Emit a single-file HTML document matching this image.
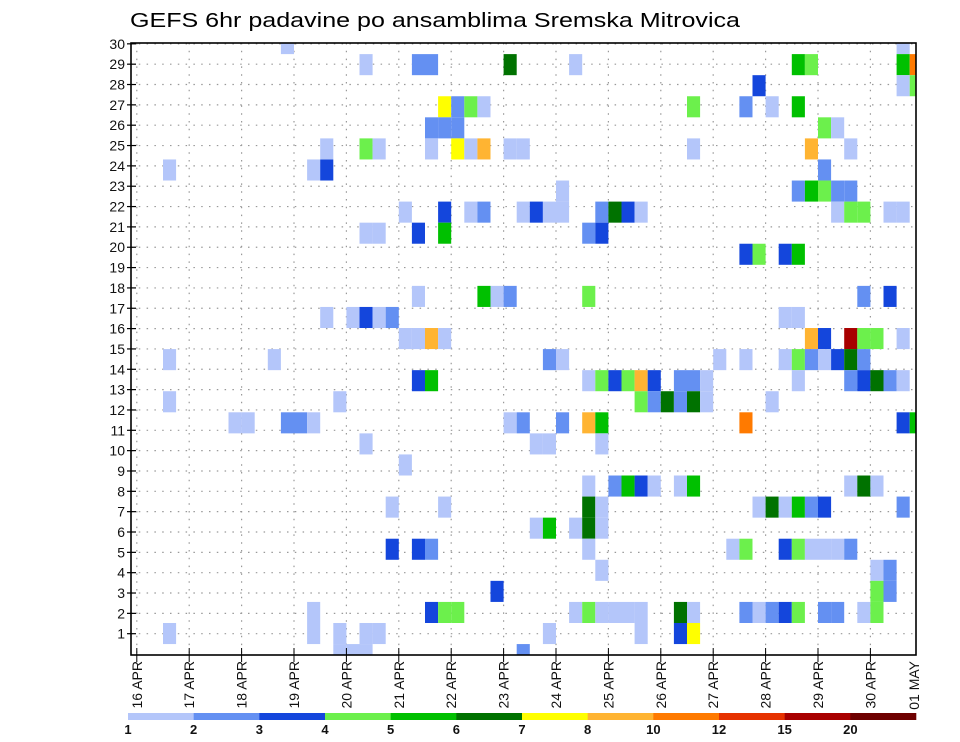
<!DOCTYPE html>
<html><head><meta charset="utf-8"><style>
html,body{margin:0;padding:0;background:#fff;width:960px;height:742px;overflow:hidden}
svg{display:block;font-family:"Liberation Sans",sans-serif}
</style></head><body>
<svg id="chart" width="960" height="742" viewBox="0 0 960 742" xmlns="http://www.w3.org/2000/svg">
<text x="130" y="27" font-size="20" textLength="610" lengthAdjust="spacingAndGlyphs">GEFS 6hr padavine po ansamblima Sremska Mitrovica</text>
<defs><clipPath id="plotclip"><rect x="131" y="43" width="785" height="612"/></clipPath></defs>
<g id="grid"></g>
<g id="cells" clip-path="url(#plotclip)"></g>
<rect x="131" y="43" width="785" height="612" fill="none" stroke="#000" stroke-width="1.6"/>
<g id="yaxis"></g>
<g id="xaxis"></g>
<g id="legend"></g>
</svg>
<script>
// time index (6h steps from 16 APR 00Z), ensemble member row, 6h precip (mm)
const cellTime = [11,2,13,14,14,14,2,10,2,7,8,11,12,13,15,13,13,2,15,
17,21,22,28,23,24,25,26,22,23,24,17,18,22,24,25,26,28,29,20,23,25,26,29,17,18,21,23,21,26,27,28,16,17,18,19,20,21,22,23,
21,22,28,29,17,20,19,23,19,21,22,27,22,23,24,17,18,15,16,17,29,
33,42,42,32,30,31,32,35,36,37,38,34,35,34,
31,32,44,34,35,36,37,38,39,41,42,43,38,39,40,41,42,43,32,34,35,30,31,35,34,36,37,38,39,41,42,34,35,30,31,33,34,35,34,35,33,34,35,36,37,38,41,42,31,38,41,42,
58,50,51,58,59,47,58,59,46,48,50,52,53,51,54,52,50,51,52,53,54,53,54,55,57,58,46,47,49,50,55,57,49,50,51,52,54,55,56,58,
46,49,50,51,52,53,54,55,50,54,55,56,57,58,48,46,58,59,54,55,56,47,48,49,50,51,52,58,45,46,49,50,51,52,53,54,56,57,56,57,46,47,48,49,50,52,53,55,56];
const cellMember = [29,23,23,23,24,16,14,14,12,11,11,11,11,11,12,1,2,1,1,
28,28,28,28,26,26,26,26,25,25,25,24,24,24,24,24,24,24,24,21,21,21,21,21,20,20,20,20,17,17,17,17,16,16,16,16,15,15,15,15,
13,13,11,11,10,9,7,7,5,5,5,3,2,2,2,1,1,0,0,0,0,
28,26,24,22,21,21,21,21,21,21,21,20,20,17,
14,14,14,13,13,13,13,13,13,13,13,13,12,12,12,12,12,12,11,11,11,10,10,10,8,8,8,8,8,8,8,7,7,6,6,6,6,6,5,4,2,2,2,2,2,2,2,2,1,1,1,1,
29,28,28,28,28,27,27,27,26,26,26,25,25,24,24,23,22,22,22,22,22,21,21,21,21,21,19,19,19,19,17,17,16,16,15,15,15,15,15,15,
14,14,14,14,14,14,14,14,13,13,13,13,13,13,12,11,11,11,8,8,8,7,7,7,7,7,7,7,5,5,5,5,5,5,5,5,4,4,3,3,2,2,2,2,2,2,2,2,2];
const cellPrecip = [1.5,1.5,1.5,3.5,1.5,1.5,1.5,1.5,1.5,1.5,1.5,2.5,2.5,1.5,1.5,1.5,1.5,1.5,1.5,
1.5,2.5,2.5,6.5,7.5,2.5,4.5,1.5,2.5,2.5,2.5,4.5,1.5,1.5,7.5,1.5,9,1.5,1.5,1.5,3.5,1.5,2.5,1.5,1.5,1.5,3.5,5.5,1.5,5.5,1.5,2.5,1.5,3.5,1.5,2.5,1.5,1.5,9,1.5,
3.5,5.5,1.5,2.5,1.5,1.5,1.5,1.5,3.5,3.5,2.5,3.5,3.5,4.5,4.5,1.5,1.5,1.5,1.5,1.5,2.5,
1.5,4.5,1.5,1.5,3.5,1.5,1.5,2.5,6.5,3.5,1.5,2.5,3.5,4.5,
2.5,1.5,1.5,1.5,4.5,3.5,4.5,9,3.5,2.5,2.5,1.5,4.5,2.5,6.5,2.5,6.5,1.5,2.5,9,5.5,1.5,1.5,1.5,1.5,2.5,5.5,3.5,1.5,1.5,5.5,6.5,1.5,1.5,5.5,1.5,6.5,1.5,1.5,1.5,1.5,4.5,1.5,1.5,1.5,1.5,6.5,1.5,1.5,1.5,3.5,7.5,
1.5,5.5,4.5,5.5,11,3.5,1.5,4.5,2.5,1.5,5.5,4.5,1.5,9,1.5,2.5,2.5,5.5,4.5,2.5,2.5,1.5,4.5,4.5,1.5,1.5,3.5,4.5,3.5,5.5,2.5,3.5,1.5,1.5,9,3.5,17,4.5,4.5,1.5,
1.5,1.5,4.5,2.5,1.5,3.5,6.5,2.5,1.5,2.5,3.5,6.5,2.5,1.5,1.5,11,3.5,5.5,1.5,6.5,1.5,1.5,6.5,1.5,5.5,2.5,3.5,2.5,1.5,4.5,3.5,4.5,1.5,1.5,1.5,2.5,1.5,2.5,4.5,2.5,2.5,1.5,2.5,3.5,4.5,2.5,2.5,1.5,4.5];
const levelValues = [1,2,3,4,5,6,7,8,10,12,15,20];
const levelColors = ["#b4c6fa","#6490f2","#1446dc","#6cf04c","#00c000","#007200","#ffff00","#ffb432","#ff7a00","#e63200","#a80000","#6e0000"];
const dayLabels = ["16 APR","17 APR","18 APR","19 APR","20 APR","21 APR","22 APR","23 APR","24 APR","25 APR","26 APR","27 APR","28 APR","29 APR","30 APR","01 MAY"];
const memberLabels = [1,2,3,4,5,6,7,8,9,10,11,12,13,14,15,16,17,18,19,20,21,22,23,24,25,26,27,28,29,30];

const NS="http://www.w3.org/2000/svg";
const X0=136.8, CW=13.1, YB=654.6, RH=21.07;
function xCell(t){return X0+CW*t;}
function yCell(m){return YB-RH*m;}
function xDay(d){return X0+CW*4*d;}
function yLabel(k){return 633.7-(k-1)*20.34;}
function colorOf(v){let c=levelColors[0];for(let i=0;i<levelValues.length;i++){if(v>=levelValues[i])c=levelColors[i];}return c;}
function mk(tag,attrs,parent){const e=document.createElementNS(NS,tag);for(const k in attrs)e.setAttribute(k,attrs[k]);parent.appendChild(e);return e;}

const grid=document.getElementById('grid');
memberLabels.forEach(k=>{
  const y=yLabel(k);
  const l=mk('line',{x1:131,x2:916,y1:y,y2:y,stroke:'#999','stroke-width':1.2,'stroke-dasharray':'1.5 6.3'},grid);
  
  
});
dayLabels.forEach((d,i)=>{
  const x=xDay(i); if(x>916) return;
  const l=mk('line',{x1:x,x2:x,y1:43,y2:655,stroke:'#999','stroke-width':1.2,'stroke-dasharray':'1.5 6.3'},grid);
  
  
});

const cells=document.getElementById('cells');
for(let i=0;i<cellTime.length;i++){
  const r=mk('rect',{x:xCell(cellTime[i]),y:yCell(cellMember[i])-RH/2,width:CW,height:RH,fill:colorOf(cellPrecip[i])},cells);
  
  
}

const ya=document.getElementById('yaxis');
memberLabels.forEach(k=>{
  const y=yLabel(k);
  const t=mk('line',{x1:127,x2:136,y1:y,y2:y,stroke:'#000','stroke-width':1.2},ya);
  
  
  const tx=mk('text',{x:125,y:y+5,'font-size':14,'text-anchor':'end',fill:'#111'},ya);
  tx.textContent=k;
  
  
});

const xa=document.getElementById('xaxis');
dayLabels.forEach((d,i)=>{
  const x=xDay(i);
  if(x<=916){
    const t=mk('line',{x1:x,x2:x,y1:648,y2:662,stroke:'#000','stroke-width':1},xa);
    
    
  }
  const lx=Math.min(x,914);
  const tx=mk('text',{transform:`translate(${lx+5},661) rotate(-90)`,'font-size':14,'text-anchor':'end',fill:'#111'},xa);
  tx.textContent=d;
  
  
});

const lg=document.getElementById('legend');
const LX0=128, LX1=916, LW=(LX1-LX0)/levelColors.length;
levelColors.forEach((c,i)=>{
  const r=mk('rect',{x:LX0+i*LW,y:713,width:LW+0.3,height:7,fill:c},lg);
  
  
});
levelValues.forEach((v,i)=>{
  const tx=mk('text',{x:LX0+i*LW,y:734,'font-size':13,'font-weight':'bold','text-anchor':'middle',fill:'#111'},lg);
  tx.textContent=v;
  
  
});
</script>
</body></html>
